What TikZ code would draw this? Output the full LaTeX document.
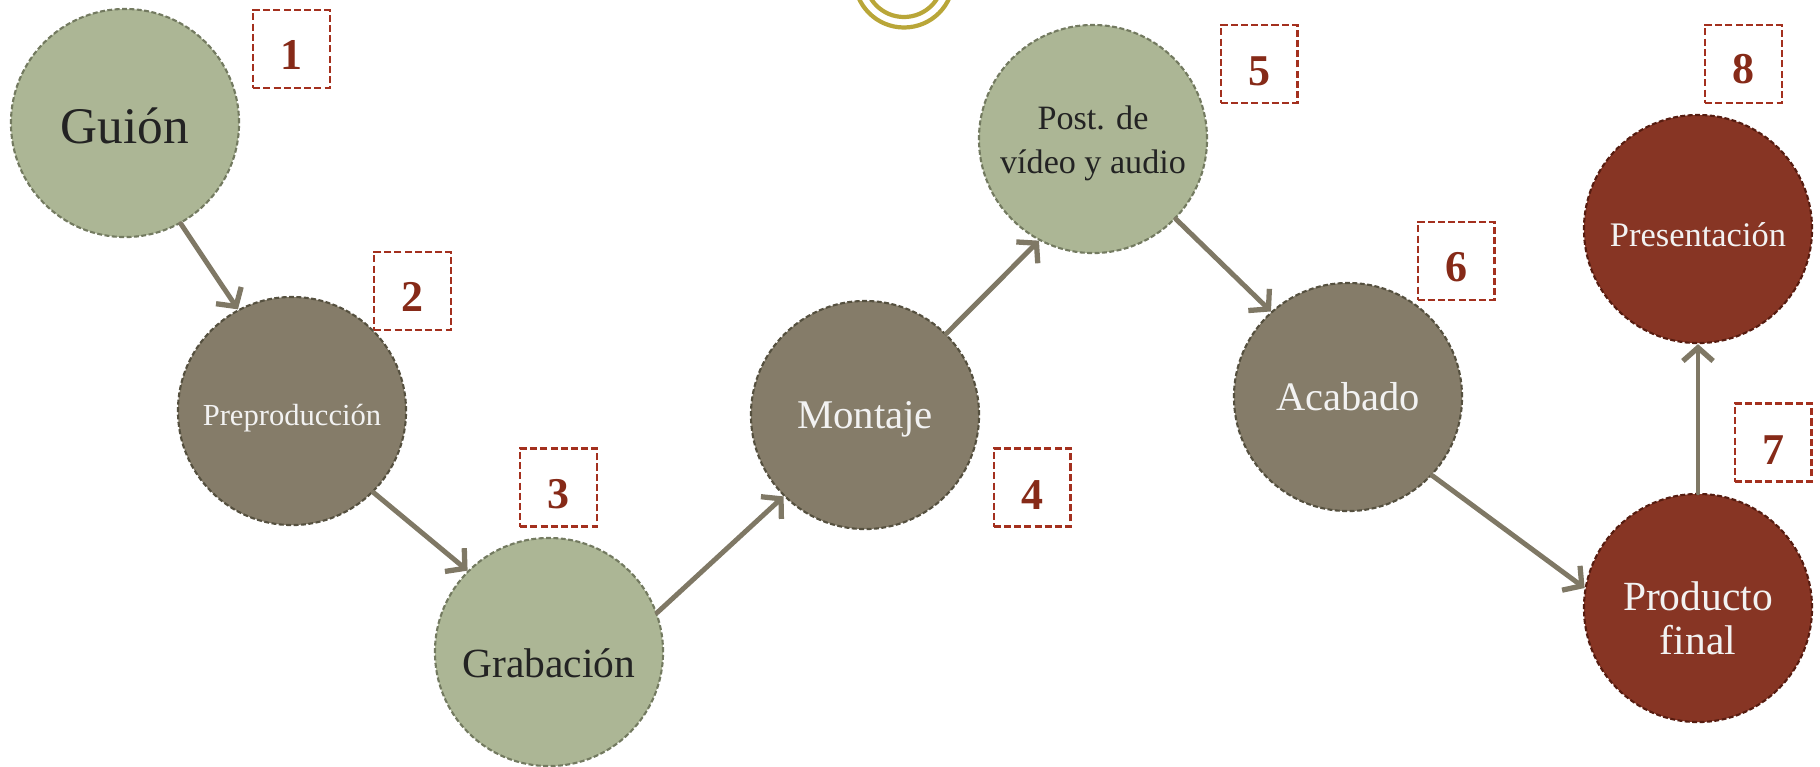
\documentclass[tikz,border=0pt]{standalone}
\usepackage{fontspec}
\setmainfont{Liberation Serif}
\usetikzlibrary{arrows.meta}
\definecolor{sage}{HTML}{ACB695}
\definecolor{sageline}{HTML}{737A60}
\definecolor{taupe}{HTML}{857C69}
\definecolor{taupeline}{HTML}{55503F}
\definecolor{rust}{HTML}{873524}
\definecolor{rustline}{HTML}{561C10}
\definecolor{arrowc}{HTML}{7F7865}
\definecolor{boxred}{HTML}{A3301E}
\definecolor{numred}{HTML}{862A18}
\definecolor{gold}{HTML}{B9A638}
\definecolor{darktext}{HTML}{232323}
\newcommand{\shiftdown}[2]{\raisebox{-#1}[\height][\depth]{#2}}
\tikzset{
  stage/.style={circle, minimum size=2.28cm, inner sep=0pt, line width=0.6pt,
    dash pattern=on 1.4pt off 0.7pt, align=center},
  greenstage/.style={stage, fill=sage, draw=sageline, text=darktext},
  taupestage/.style={stage, fill=taupe, draw=taupeline, text=white!95!black},
  redstage/.style={stage, fill=rust, draw=rustline, text=white!95!black},
  numbox/.style={draw=boxred, line width=0.7pt, dash pattern=on 2pt off 0.9pt,
    minimum width=0.765cm, minimum height=0.78cm, inner sep=0pt,
    text=numred, font=\fontsize{12.5}{12.5}\selectfont\bfseries},
  flow/.style={draw=arrowc, line width=1.4pt, line cap=round, line join=round,
    -{Straight Barb[length=3.8pt,width=8.6pt,line width=1.5pt]}}
}
\begin{document}
\begin{tikzpicture}[x=0.01cm, y=-0.01cm]
\useasboundingbox (0,0) rectangle (1820,766);
% gold rings at top
\begin{scope}
\clip (0,0) rectangle (1820,766);
\draw[gold, line width=1.2pt] (904,-22) circle[radius=49.5];
\draw[gold, line width=1.2pt] (904,-22) circle[radius=39];
\end{scope}
% stages
\node[greenstage, font=\fontsize{14.6}{16}\selectfont] (guion) at (125,123) {\shiftdown{0.7pt}{Guión}};
\node[taupestage, font=\fontsize{8.7}{10}\selectfont] (prepro) at (292,411) {\shiftdown{2pt}{Preproducción}};
\node[greenstage, font=\fontsize{11.8}{13}\selectfont] (grab) at (549,652) {\shiftdown{3.3pt}{Grabación}};
\node[taupestage, font=\fontsize{11.6}{13}\selectfont] (montaje) at (865,415) {\shiftdown{1.2pt}{Montaje}};
\node[greenstage, font=\fontsize{9.7}{12.6}\selectfont] (post) at (1093,139) {\shiftdown{1pt}{\begin{tabular}{@{}c@{}}Post. de\\vídeo y audio\end{tabular}}};
\node[taupestage, font=\fontsize{11.5}{13}\selectfont] (acabado) at (1348,397) {Acabado};
\node[redstage, font=\fontsize{9.8}{11}\selectfont] (present) at (1698,229) {\shiftdown{1.6pt}{Presentación}};
\node[redstage, font=\fontsize{11.8}{12.6}\selectfont] (producto) at (1698,608) {\shiftdown{4.4pt}{\begin{tabular}{@{}c@{}}Producto\\final\end{tabular}}};
% number boxes
\node[numbox] (n1) at (291.5,49) {\shiftdown{1.7pt}{1}};
\node[numbox] (n2) at (412.5,291) {\shiftdown{1.7pt}{2}};
\node[numbox] (n3) at (558.5,487.5) {\shiftdown{2pt}{3}};
\node[numbox] (n4) at (1032,487.5) {\shiftdown{2pt}{4}};
\node[numbox] (n5) at (1259,64) {\shiftdown{2.2pt}{5}};
\node[numbox] (n6) at (1456,261) {\shiftdown{1.7pt}{6}};
\node[numbox] (n7) at (1773,442.5) {\shiftdown{2.3pt}{7}};
\node[numbox] (n8) at (1743.5,64) {\shiftdown{1.5pt}{8}};
% connectors
\draw[flow] (guion.-61) -- (prepro.118);
\draw[flow] (prepro.-45) -- (grab.135);
\draw[flow] (grab.20) -- (montaje.-135);
\draw[flow] (montaje.45) -- (post.-118);
\draw[flow] (post.-44) -- (acabado.132);
\draw[flow] (acabado.-43) -- (producto.170);
\draw[flow] (producto.north) -- (present.south);
\end{tikzpicture}
\end{document}
